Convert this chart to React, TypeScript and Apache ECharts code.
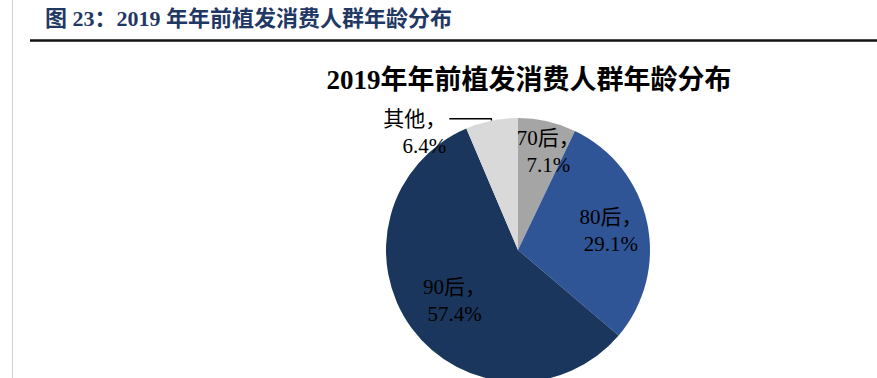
import React, { useEffect, useRef } from "react";
import * as echarts from "echarts";

const headerText = "图 23：2019 年年前植发消费人群年龄分布";
const chartTitle = "2019年年前植发消费人群年龄分布";
const categories = ["70后", "80后", "90后", "其他"];
const values = [7.1, 29.1, 57.4, 6.4];
const sliceColors = ["#A5A5A5", "#2F5597", "#1B365D", "#D9D9D9"];
// radial distance (px) of each inside label's centre from the pie centre
const labelRadius = [101, 92, 85, 0];
// small horizontal nudge of inside labels (px)
const labelNudgeX = [8, 3, 5, 0];

const FONT = '"Liberation Serif", "Times New Roman", "Noto Sans CJK SC", serif';

export default function App() {
  const ref = useRef<HTMLDivElement>(null);
  useEffect(() => {
    if (!ref.current) return;
    const chart = echarts.init(ref.current, undefined, { renderer: "svg" });
    const cx = 518;
    const cy = 250;
    const R = 132;
    const data = categories.map((name, i) => {
      const item: any = {
        name,
        value: values[i],
        itemStyle: { color: sliceColors[i] },
      };
      if (name === "其他") {
        item.label = {
          position: "outside",
          formatter: "\n{b}，\n{c}%",
          distanceToLabelLine: 3,
        };
        item.labelLine = {
          show: true,
          length: 2,
          length2: 42,
          lineStyle: { color: "#000", width: 1.5 },
        };
      }
      return item;
    });
    chart.setOption({
      animation: false,
      backgroundColor: "#fff",
      graphic: [
        {
          type: "line",
          shape: { x1: 12.5, y1: 0, x2: 12.5, y2: 378 },
          style: { stroke: "#d0d0d0", lineWidth: 1 },
        },
        {
          type: "line",
          shape: { x1: 30, y1: 40.5, x2: 877, y2: 40.5 },
          style: { stroke: "#111", lineWidth: 2.5 },
        },
        {
          type: "text",
          x: 45,
          y: 18,
          style: {
            text: headerText,
            fill: "#1F3864",
            font: `bold 22px ${FONT}`,
            textVerticalAlign: "middle",
            textAlign: "left",
          },
        },
        {
          type: "text",
          x: 529,
          y: 80,
          style: {
            text: chartTitle,
            fill: "#000",
            font: `bold 27px ${FONT}`,
            textVerticalAlign: "middle",
            textAlign: "center",
          },
        },
      ],
      series: [
        {
          type: "pie",
          center: [cx, cy],
          radius: [0, R],
          startAngle: 90,
          clockwise: true,
          avoidLabelOverlap: false,
          itemStyle: { borderWidth: 0 },
          label: {
            show: true,
            position: "inside",
            formatter: "{b}，\n{c}%",
            color: "#000",
            fontFamily: FONT,
            fontSize: 21,
            lineHeight: 27,
          },
          labelLine: { show: false },
          emphasis: { disabled: true },
          labelLayout: (p: any) => {
            const r = labelRadius[p.dataIndex];
            if (!r) return {};
            const lr = p.labelRect;
            const lx = lr.x + lr.width / 2;
            const ly = lr.y + lr.height / 2;
            const dx = lx - cx;
            const dy = ly - cy;
            const d = Math.sqrt(dx * dx + dy * dy) || 1;
            return {
              x: cx + (dx / d) * r + labelNudgeX[p.dataIndex],
              y: cy + (dy / d) * r,
              align: "center",
              verticalAlign: "middle",
            };
          },
          data,
        },
      ],
    });
    return () => chart.dispose();
  }, []);
  return (
    <div
      ref={ref}
      style={{ position: "fixed", left: 0, top: 0, width: 877, height: 378 }}
    />
  );
}
